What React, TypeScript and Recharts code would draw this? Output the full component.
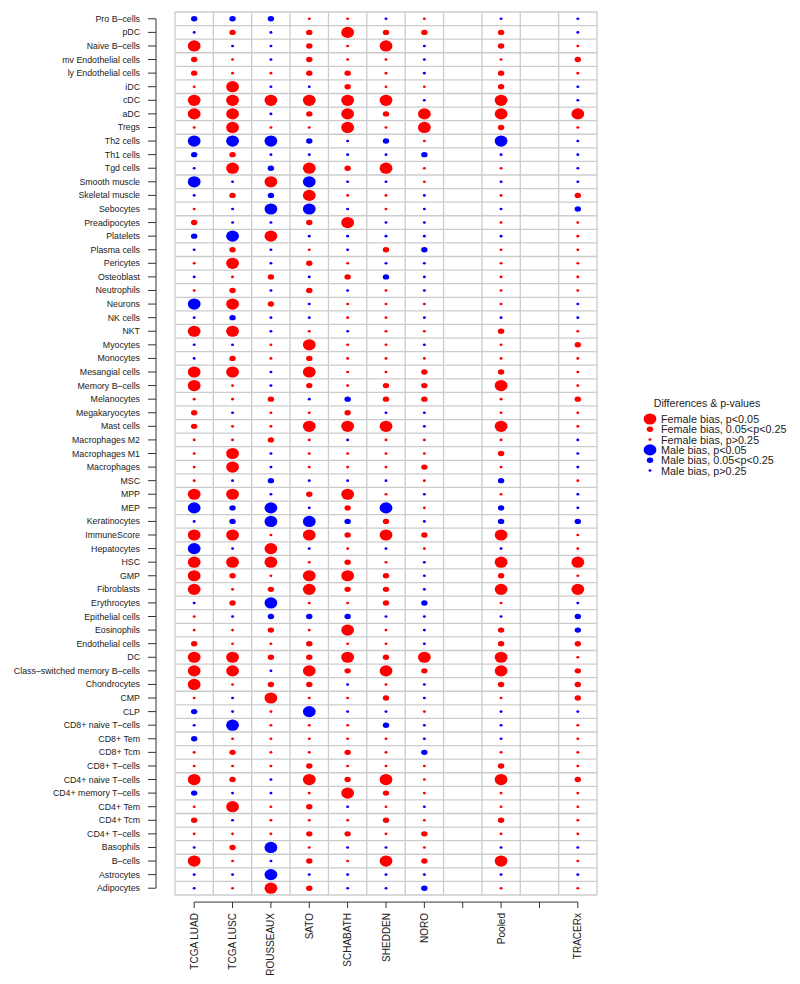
import React from "react"
import { ScatterChart, Scatter, XAxis, YAxis, ReferenceLine } from "recharts"

// row labels, top to bottom
const cellTypes = [
  "Pro B–cells", "pDC", "Naive B–cells", "mv Endothelial cells", "ly Endothelial cells",
  "iDC", "cDC", "aDC", "Tregs", "Th2 cells", "Th1 cells", "Tgd cells", "Smooth muscle",
  "Skeletal muscle", "Sebocytes", "Preadipocytes", "Platelets", "Plasma cells", "Pericytes",
  "Osteoblast", "Neutrophils", "Neurons", "NK cells", "NKT", "Myocytes", "Monocytes",
  "Mesangial cells", "Memory B–cells", "Melanocytes", "Megakaryocytes", "Mast cells",
  "Macrophages M2", "Macrophages M1", "Macrophages", "MSC", "MPP", "MEP", "Keratinocytes",
  "ImmuneScore", "Hepatocytes", "HSC", "GMP", "Fibroblasts", "Erythrocytes",
  "Epithelial cells", "Eosinophils", "Endothelial cells", "DC",
  "Class–switched memory B–cells", "Chondrocytes", "CMP", "CLP", "CD8+ naive T–cells",
  "CD8+ Tem", "CD8+ Tcm", "CD8+ T–cells", "CD4+ naive T–cells", "CD4+ memory T–cells",
  "CD4+ Tem", "CD4+ Tcm", "CD4+ T–cells", "Basophils", "B–cells", "Astrocytes", "Adipocytes",
]

const datasets = ["TCGA LUAD", "TCGA LUSC", "ROUSSEAUX", "SATO", "SCHABATH", "SHEDDEN", "NORO", "Pooled", "TRACERx"]
// column slot of each dataset (slots 8 and 10 are empty spacers)
const datasetSlots = [1, 2, 3, 4, 5, 6, 7, 9, 11]
const slotTicks = [1, 2, 3, 4, 5, 6, 7, 8, 9, 10, 11]

// +: female bias, -: male bias; 3 = p<0.05, 2 = 0.05<p<0.25, 1 = p>0.25
// columns in the order of `datasets`
const scores = [
  [-2, -2, -2, 1, 1, -1, 1, -1, -1],
  [-1, 2, -1, 2, 3, 2, 2, 2, -1],
  [3, -1, -1, 2, 1, 3, -1, 2, 1],
  [2, 1, -1, 2, 1, 1, -1, 1, 2],
  [2, 1, 1, 2, 2, 1, -1, 2, 1],
  [1, 3, -1, -1, 2, 1, 1, 2, -1],
  [3, 3, 3, 3, 3, 3, -1, 3, -1],
  [3, 3, -1, 2, 3, 2, 3, 3, 3],
  [1, 3, 1, 1, 3, 1, 3, 2, 1],
  [-3, -3, -3, -2, -1, -2, 1, -3, -1],
  [-2, 2, -1, -1, -1, -1, -2, -1, -1],
  [-1, 3, -2, 3, 2, 3, 1, 1, -1],
  [-3, -1, 3, -3, -1, -1, 1, -1, -1],
  [-1, 2, -2, 3, 1, 1, -1, 1, 2],
  [1, -1, -3, -3, -1, 1, -1, -1, -2],
  [2, -1, -1, 2, 3, -1, -1, 1, 1],
  [-2, -3, 3, -1, -1, -1, -1, -1, 1],
  [-1, 2, -1, 1, -1, 2, -2, 1, 1],
  [1, 3, -1, 2, 1, -1, -1, 1, 1],
  [-1, 1, 2, -1, 2, -2, -1, 1, 1],
  [1, 2, -1, 2, -1, 1, -1, 1, 1],
  [-3, 3, 2, -1, 1, 1, 1, 1, -1],
  [-1, -2, -1, -1, 1, 1, -1, -1, -1],
  [3, 3, -1, 1, -1, 1, 1, 2, 1],
  [-1, -1, 1, 3, 1, 1, -1, 1, 2],
  [-1, 2, 1, 2, 1, 1, 1, 1, 1],
  [3, 3, -1, 3, 1, 1, 2, 2, 1],
  [3, 1, -1, 2, 1, 2, 2, 3, 1],
  [1, 1, 2, -1, -2, 2, 2, 1, 2],
  [2, -1, 1, 1, 2, -1, -1, 1, 1],
  [2, 1, 1, 3, 3, 3, -1, 3, 1],
  [1, 1, 2, 1, -1, 1, 1, 1, -1],
  [1, 3, -1, 1, 1, 1, 1, 2, -1],
  [1, 3, -1, 1, 1, 1, 2, 1, -1],
  [1, -1, -2, -1, -1, -1, 1, -2, 1],
  [3, 3, -1, 2, 3, 1, -1, 1, -1],
  [-3, -2, -3, -1, 2, -3, 1, -2, -1],
  [-1, -2, -3, -3, -2, 2, -1, -2, -2],
  [3, 3, 1, 3, 2, 3, 2, 3, 1],
  [-3, -1, 3, -1, 1, -1, 1, -1, 1],
  [3, 3, 3, 1, 2, 1, -1, 3, 3],
  [3, 2, 1, 3, 3, 2, -1, 2, 1],
  [3, 1, 2, 3, 2, 2, -1, 3, 3],
  [-1, 2, -3, 1, 1, 2, -2, 1, -1],
  [1, -1, -2, -2, -2, -1, -1, -1, -2],
  [1, 1, 2, 1, 3, 1, -1, 2, -2],
  [2, 1, 1, 2, 1, 1, -1, 2, 2],
  [3, 3, 2, 2, 3, 2, 3, 3, 1],
  [3, 3, -1, 3, 2, 3, 2, 3, 2],
  [3, 1, 2, 2, -1, 1, -1, 2, 2],
  [1, -1, 3, 1, 1, 2, -1, 1, 2],
  [-2, -1, 1, -3, -1, -1, 1, -1, -1],
  [-1, -3, 1, 1, 1, -2, -1, -1, 1],
  [-2, 1, 1, 1, 1, 1, -1, -1, 1],
  [1, 2, 1, 1, 2, 1, -2, 1, 1],
  [1, 1, 1, 2, 1, 1, 1, 2, 1],
  [3, 2, -1, 3, 2, 3, 1, 3, 2],
  [-2, -1, -1, 1, 3, 2, 1, 1, 1],
  [1, 3, 1, 2, -1, 1, -1, 1, 1],
  [2, -1, 1, 1, 1, 2, 1, 2, 1],
  [1, 1, 1, 2, 2, 1, 2, 1, 1],
  [-1, 2, -3, 1, -1, -1, 1, -1, -1],
  [3, 1, -1, 2, 1, 3, 2, 3, 1],
  [-1, -1, -3, -1, -1, -1, -1, -1, -1],
  [-1, 1, 3, 2, -1, -1, -2, 1, 1],
]

const legendLabels = [
  "Female bias, p<0.05",
  "Female bias, 0.05<p<0.25",
  "Female bias, p>0.25",
  "Male bias, p<0.05",
  "Male bias, 0.05<p<0.25",
  "Male bias, p>0.25",
]
const legendCodes = [3, 2, 1, -3, -2, -1]

const FONT = "'Liberation Sans', Arial, Helvetica, sans-serif"
const RED = "#ff0000"
const BLUE = "#0000ff"
const RX = [0, 1.5, 3.2, 6.4]
const RY = [0, 1.3, 2.7, 5.6]

const rowTicks = cellTypes.map((_, i) => i + 1)
const points = scores.flatMap((row, i) =>
  row.map((v, j) => ({ x: datasetSlots[j], y: i + 1, v }))
)
const xBounds = [0.5, ...slotTicks.map((s) => s + 0.5)]
const yBounds = [0.5, ...rowTicks.map((r) => r + 0.5)]

function Dot(props: any) {
  const { cx, cy, payload } = props
  const m = Math.abs(payload.v)
  return <ellipse cx={cx} cy={cy} rx={RX[m]} ry={RY[m]} fill={payload.v > 0 ? RED : BLUE} />
}

function RowTick(props: any) {
  const { x, y, payload } = props
  return (
    <g>
      <line x1={x - 27} x2={x - 19} y1={y} y2={y} stroke="#333" strokeWidth={1} />
      <text x={x - 35} y={y} textAnchor="end" dominantBaseline="central" fontSize={8.8} fontFamily={FONT} fill="#222">
        {cellTypes[payload.value - 1]}
      </text>
    </g>
  )
}

function ColTick(props: any) {
  const { x, y, payload } = props
  const idx = datasetSlots.indexOf(payload.value)
  return (
    <g>
      <line x1={x} x2={x} y1={y + 7} y2={y + 13} stroke="#333" strokeWidth={1} />
      {idx >= 0 && (
        <text
          x={x}
          y={y + 18}
          transform={`rotate(-90 ${x} ${y + 18})`}
          textAnchor="end"
          dominantBaseline="central"
          fontSize={10}
          fontFamily={FONT}
          fill="#222"
        >
          {datasets[idx]}
        </text>
      )}
    </g>
  )
}

function Legend() {
  return (
    <svg width={170} height={90} style={{ position: "absolute", left: 630, top: 392 }}>
      <text x={77} y={11} textAnchor="middle" dominantBaseline="central" fontSize={10.6} fontFamily={FONT} fill="#222">
        Differences & p-values
      </text>
      {legendLabels.map((label, i) => {
        const v = legendCodes[i]
        const m = Math.abs(v)
        const cy = 27 + i * 10.3
        return (
          <g key={label}>
            <ellipse cx={20} cy={cy} rx={RX[m]} ry={RY[m]} fill={v > 0 ? RED : BLUE} />
            <text x={31} y={cy} dominantBaseline="central" fontSize={10.8} fontFamily={FONT} fill="#222">
              {label}
            </text>
          </g>
        )
      })}
    </svg>
  )
}

export default function App() {
  return (
    <div style={{ position: "absolute", left: 0, top: 0, width: 800, height: 984, background: "#fff" }}>
      <ScatterChart width={800} height={984} margin={{ top: 12, right: 203, bottom: 0, left: 0 }}>
        <XAxis
          type="number"
          dataKey="x"
          domain={[0.5, 11.5]}
          ticks={slotTicks}
          interval={0}
          height={89}
          axisLine={false}
          tickLine={false}
          tickSize={0}
          tickMargin={0}
          tick={<ColTick />}
        />
        <YAxis
          type="number"
          dataKey="y"
          domain={[0.5, 65.5]}
          reversed
          ticks={rowTicks}
          interval={0}
          width={175}
          axisLine={false}
          tickLine={false}
          tickSize={0}
          tickMargin={0}
          tick={<RowTick />}
        />
        {xBounds.map((b) => (
          <ReferenceLine key={"vx" + b} x={b} stroke="#cccccc" strokeWidth={1.3} ifOverflow="visible" />
        ))}
        {yBounds.map((b) => (
          <ReferenceLine key={"hy" + b} y={b} stroke="#cccccc" strokeWidth={1.3} ifOverflow="visible" />
        ))}
        <ReferenceLine
          segment={[{ x: 0.005, y: 1 }, { x: 0.005, y: 65 }]}
          stroke="#333"
          strokeWidth={1}
          ifOverflow="visible"
        />
        <ReferenceLine
          segment={[{ x: 1, y: 66.02 }, { x: 11, y: 66.02 }]}
          stroke="#333"
          strokeWidth={1}
          ifOverflow="visible"
        />
        <Scatter data={points} shape={<Dot />} isAnimationActive={false} />
      </ScatterChart>
      <Legend />
    </div>
  )
}
